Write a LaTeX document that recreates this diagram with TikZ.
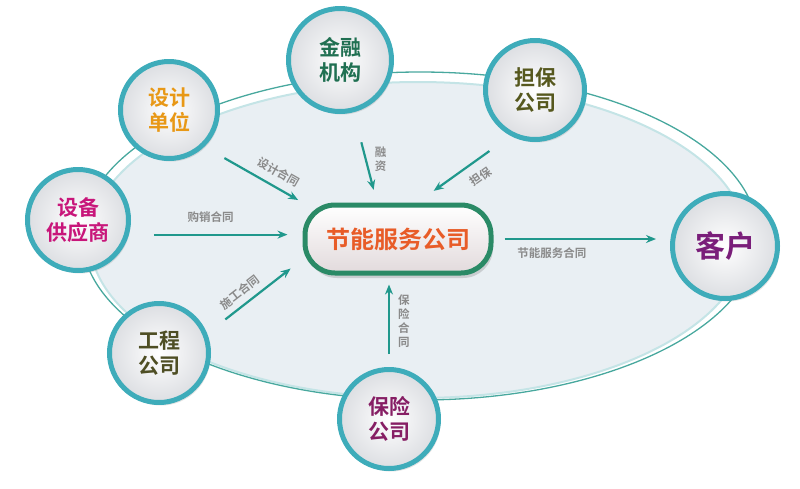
\documentclass[tikz,border=0pt]{standalone}
\usepackage{fontspec}
\usepackage{xcolor}
\usepackage{tikz}
\usetikzlibrary{arrows.meta, shadows}
\newfontfamily\cjk{Noto Sans CJK SC}[BoldFont={Noto Sans CJK SC Bold}]

\definecolor{ringteal}{RGB}{62,172,186}
\definecolor{flowteal}{RGB}{32,152,140}
\definecolor{rimteal}{RGB}{72,168,158}
\definecolor{rimlight}{RGB}{196,228,230}
\definecolor{bgfill}{RGB}{233,239,243}
\definecolor{boxgreen}{RGB}{42,138,102}
\definecolor{tagtext}{RGB}{138,138,138}
\definecolor{hubtext}{RGB}{232,92,40}
\definecolor{shejitext}{RGB}{232,152,22}
\definecolor{jinrongtext}{RGB}{32,112,82}
\definecolor{danbaotext}{RGB}{86,88,30}
\definecolor{shebeitext}{RGB}{200,22,122}
\definecolor{kehutext}{RGB}{122,30,122}
\definecolor{gongchengtext}{RGB}{78,78,36}
\definecolor{baoxiantext}{RGB}{134,30,100}

\tikzset{
  party/.style={circle, minimum size=99pt, inner sep=0pt, draw=ringteal, line width=5pt,
    inner color=white, outer color={rgb,255:red,220;green,222;blue,226},
    drop shadow={opacity=0.22, shadow xshift=2pt, shadow yshift=-3pt},
    font=\cjk\bfseries\fontsize{21}{25}\selectfont, align=center},
  hub/.style={rectangle, rounded corners=30pt, minimum width=186pt, minimum height=68pt,
    draw=boxgreen, line width=5pt, top color=white,
    bottom color={rgb,255:red,226;green,218;blue,220},
    drop shadow={opacity=0.3, shadow xshift=2pt, shadow yshift=-5pt},
    font=\cjk\bfseries\fontsize{24}{28}\selectfont, text=hubtext},
  flow/.style={-{Stealth[length=10pt, width=8pt]}, draw=flowteal, line width=2.2pt},
  tag/.style={font=\cjk\bfseries\fontsize{11.5}{14}\selectfont, text=tagtext, inner sep=2pt, align=center},
}

\begin{document}
\begin{tikzpicture}[x=1pt, y=-1pt]
  \useasboundingbox (0,0) rectangle (800,488);
  % background ellipse
  \fill[bgfill, draw=rimlight, line width=2pt] (418,240) ellipse [x radius=328, y radius=158];
  \draw[rimteal, line width=1.3pt] (420,236) ellipse [x radius=338, y radius=164];

  \node[hub] (hub) at (398,239) {节能服务公司};
  \node[party, minimum size=97pt, text=shejitext] (sheji) at (169,110) {设计\\单位};
  \node[party, minimum size=103pt, text=jinrongtext] (jinrong) at (340,60) {金融\\机构};
  \node[party, text=danbaotext] (danbao) at (535,90) {担保\\公司};
  \node[party, minimum size=101pt, text=shebeitext] (shebei) at (78,220) {设备\\供应商};
  \node[party, minimum size=105pt, text=kehutext, font=\cjk\bfseries\fontsize{30}{34}\selectfont] (kehu) at (725,246) {客户};
  \node[party, text=gongchengtext] (gongcheng) at (159,353) {工程\\公司};
  \node[party, text=baoxiantext] (baoxian) at (389,419) {保险\\公司};

  \draw[flow, shorten <=23pt, shorten >=5pt] (sheji.-46) -- (hub.north west)
    node[tag, pos=0.68, sloped, above=6pt] {设计合同};
  \draw[flow, shorten <=25pt, shorten >=15pt] (shebei.-16) -- (shebei.-16 -| hub.west)
    node[tag, pos=0.47, above=9pt] {购销合同};
  \draw[flow, shorten <=31pt, shorten >=13pt] (jinrong) -- (hub.120)
    node[tag, pos=0.52, right=6pt] {融\\资};
  \draw[flow, shorten <=26pt, shorten >=20pt] (danbao.-118) -- (hub.62)
    node[tag, pos=0.42, sloped, below=7pt] {担保};
  \draw[flow, shorten <=23pt, shorten >=15pt] (gongcheng.22) -- (hub.192)
    node[tag, pos=0.42, sloped, above=4pt] {施工合同};
  \draw[flow, shorten <=13pt, shorten >=9pt] (baoxian.north) -- (baoxian.north |- hub.south)
    node[tag, pos=0.5, right=6pt] {保\\险\\合\\同};
  \draw[flow, shorten <=11pt, shorten >=14pt] (hub.east) -- (hub.east -| kehu.west)
    node[tag, pos=0.33, below=6pt] {节能服务合同};
\end{tikzpicture}
\end{document}
